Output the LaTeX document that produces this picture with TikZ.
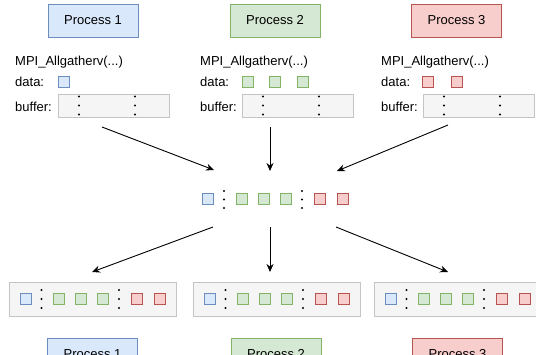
\documentclass[tikz,border=0pt]{standalone}
\usepackage{fontspec}
\setmainfont{Liberation Sans}
\usetikzlibrary{arrows.meta}
\definecolor{bfill}{HTML}{DAE8FC}\definecolor{bdraw}{HTML}{6C8EBF}
\definecolor{gfill}{HTML}{D5E8D4}\definecolor{gdraw}{HTML}{82B366}
\definecolor{rfill}{HTML}{F8CECC}\definecolor{rdraw}{HTML}{B85450}
\definecolor{buffill}{HTML}{F5F5F5}\definecolor{bufdraw}{HTML}{C4C4C4}
\begin{document}
\begin{tikzpicture}[x=1pt,y=-1pt,
  txt/.style={font=\fontsize{13}{15}\selectfont},
  proc/.style={txt, draw, line width=0.8pt, minimum width=90pt, minimum height=33pt, inner sep=0pt},
  pblue/.style={proc, fill=bfill, draw=bdraw},
  pgreen/.style={proc, fill=gfill, draw=gdraw},
  pred/.style={proc, fill=rfill, draw=rdraw},
  lbl/.style={txt, anchor=base west, inner sep=0pt},
  sq/.style={draw, line width=0.8pt, minimum size=11pt, inner sep=0pt},
  sqb/.style={sq, fill=bfill, draw=bdraw},
  sqg/.style={sq, fill=gfill, draw=gdraw},
  sqr/.style={sq, fill=rfill, draw=rdraw},
  bufbox/.style={draw=bufdraw, fill=buffill, line width=0.8pt, inner sep=0pt},
  arr/.style={-{Stealth[length=8pt,width=7pt]}, line width=0.9pt},
  dot/.style={fill=black}
]
\useasboundingbox (0,0) rectangle (536,354);
\clip (0,0) rectangle (536,354);

% top process boxes
\node[pblue]  (p1) at (93,20.5)  {Process 1};
\node[pgreen] (p2) at (275,20.5) {Process 2};
\node[pred]   (p3) at (456.5,20.5) {Process 3};

% labels
\foreach \x/\n in {15/1,200/2,381/3}{
  \node[lbl] (mpi\n) at (\x,65.5) {MPI\_Allgatherv(...)};
  \node[lbl] (data\n) at (\x,86.3) {data:};
  \node[lbl] (bufl\n) at (\x,111) {buffer:};
}

% data squares
\node[sqb] (d11) at (63.5,82) {};
\node[sqg] (d21) at (247.5,82) {};
\node[sqg] (d22) at (274.5,82) {};
\node[sqg] (d23) at (302.5,82) {};
\node[sqr] (d31) at (427.5,82) {};
\node[sqr] (d32) at (456.5,82) {};

% buffers
\foreach \l/\n in {58/1,242/2,423/3}{
  \node[bufbox, minimum width=111pt, minimum height=23pt] (buf\n) at (\l+55.5,105.5) {};
  \foreach \o in {21,77}{
    \foreach \yy in {96.5,105.5,114.5}{
      \fill[dot] (\l+\o,\yy) circle (1.1pt);
    }
  }
}

% middle row
\node[sqb] (m1) at (208,199) {};
\node[sqg] (m2) at (242,199) {};
\node[sqg] (m3) at (264,199) {};
\node[sqg] (m4) at (286,199) {};
\node[sqr] (m5) at (320,199) {};
\node[sqr] (m6) at (343,199) {};
\foreach \x in {224,302}{
  \foreach \yy in {191,199.5,208}{
    \fill[dot] (\x,\yy) circle (1.1pt);
  }
}

% bottom rows
\foreach \l/\n in {9/1,193/2,374/3}{
  \node[bufbox, minimum width=167pt, minimum height=34pt] (res\n) at (\l+83.5,299) {};
  \node[sqb] (r\n a) at (\l+16.5,299) {};
  \node[sqg] (r\n b) at (\l+50,299) {};
  \node[sqg] (r\n c) at (\l+72,299) {};
  \node[sqg] (r\n d) at (\l+94,299) {};
  \node[sqr] (r\n e) at (\l+128,299) {};
  \node[sqr] (r\n f) at (\l+150.5,299) {};
  \foreach \o in {32.5,110}{
    \foreach \yy in {290,299,308}{
      \fill[dot] (\l+\o,\yy) circle (1.1pt);
    }
  }
}

% bottom process boxes
\node[pblue]  (q1) at (92.5,354.5) {Process 1};
\node[pgreen] (q2) at (276,354.5) {Process 2};
\node[pred]   (q3) at (457.5,354.5) {Process 3};

% arrows
\coordinate (a1s) at (102,127); \coordinate (a1e) at (214,170);
\coordinate (a2s) at (270,127); \coordinate (a2e) at (270,171);
\coordinate (a3s) at (448,125); \coordinate (a3e) at (337,171);
\coordinate (a4s) at (213,227); \coordinate (a4e) at (92,272);
\coordinate (a5s) at (270,227); \coordinate (a5e) at (270,272);
\coordinate (a6s) at (336,227); \coordinate (a6e) at (448,272);
\draw[arr] (a1s) -- (a1e);
\draw[arr] (a2s) -- (a2e);
\draw[arr] (a3s) -- (a3e);
\draw[arr] (a4s) -- (a4e);
\draw[arr] (a5s) -- (a5e);
\draw[arr] (a6s) -- (a6e);
\end{tikzpicture}
\end{document}
